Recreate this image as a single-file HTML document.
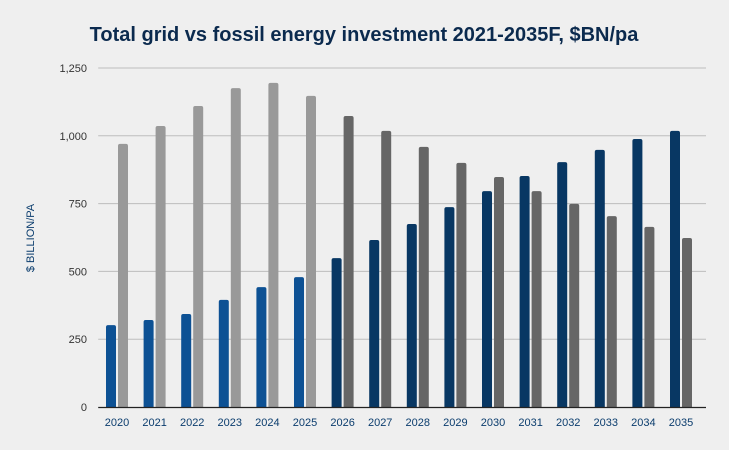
<!DOCTYPE html>
<html><head><meta charset="utf-8"><style>
html,body{margin:0;padding:0;background:#efefef;}
svg{display:block;font-family:"Liberation Sans",sans-serif;}
</style></head><body>
<svg id="c" width="729" height="450">
<rect width="729" height="450" fill="#efefef"/>
<text x="364" y="41" text-anchor="middle" font-size="20" font-weight="bold" fill="#0b2a4e">Total grid vs fossil energy investment 2021-2035F, $BN/pa</text>
<text transform="translate(34,238) rotate(-90)" text-anchor="middle" font-size="11" fill="#0b3d6e">$ BILLION/PA</text>
<g id="grid"></g><g id="bars"></g><g id="xl"></g>
</svg>
<script>
const years=["2020","2021","2022","2023","2024","2025","2026","2027","2028","2029","2030","2031","2032","2033","2034","2035"];
const gridInv=[302,321,343,395,442,479,549,616,675,737,796,852,903,948,988,1018];
const fossilInv=[970,1036,1110,1176,1195,1147,1073,1018,959,900,848,796,749,704,664,623];
const yTicks=[0,250,500,750,1000,1250];
const yTickLabels=["0","250","500","750","1,000","1,250"];
const NS="http://www.w3.org/2000/svg";
const x0=98.2,slot=37.6,y0=407,ymax=1250,yTop=68;
const y=v=>y0-(v/ymax)*(y0-yTop);
const xc=i=>x0+slot*(i+0.5);
function mk(t,a,p){const e=document.createElementNS(NS,t);for(const k in a)e.setAttribute(k,a[k]);p.appendChild(e);return e;}
const G=document.getElementById('grid'),B=document.getElementById('bars'),XL=document.getElementById('xl');
yTicks.forEach((t,i)=>{
 if(t>0){const l=mk('line',{x1:x0,x2:706,y1:y(t),y2:y(t),stroke:'#bdbdbd','stroke-width':1},G);
 
 }
 const tx=mk('text',{x:87,y:y(t)+4,'text-anchor':'end','font-size':11,fill:'#333'},G);tx.textContent=yTickLabels[i];
 
 
});
function bar(x,v,w,col){const h=y0-y(v),r=2;
 return mk('path',{d:`M${x},${y0}V${y(v)+r}Q${x},${y(v)} ${x+r},${y(v)}H${x+w-r}Q${x+w},${y(v)} ${x+w},${y(v)+r}V${y0}Z`,fill:col},B);}
years.forEach((yr,i)=>{
 const c=xc(i),proj=i>=6;
 const g=bar(c-11,gridInv[i],10,proj?'#083763':'#0d5194');
 
 
 const f=bar(c+1,fossilInv[i],10,proj?'#666666':'#999999');
 
 
 const t=mk('text',{x:c,y:426,'text-anchor':'middle','font-size':11,fill:'#0b3d6e'},XL);t.textContent=yr;
 
 
});
const ax=mk('line',{x1:x0,x2:706,y1:y0+0.5,y2:y0+0.5,stroke:'#222','stroke-width':1.2},XL);


</script>
</body></html>
